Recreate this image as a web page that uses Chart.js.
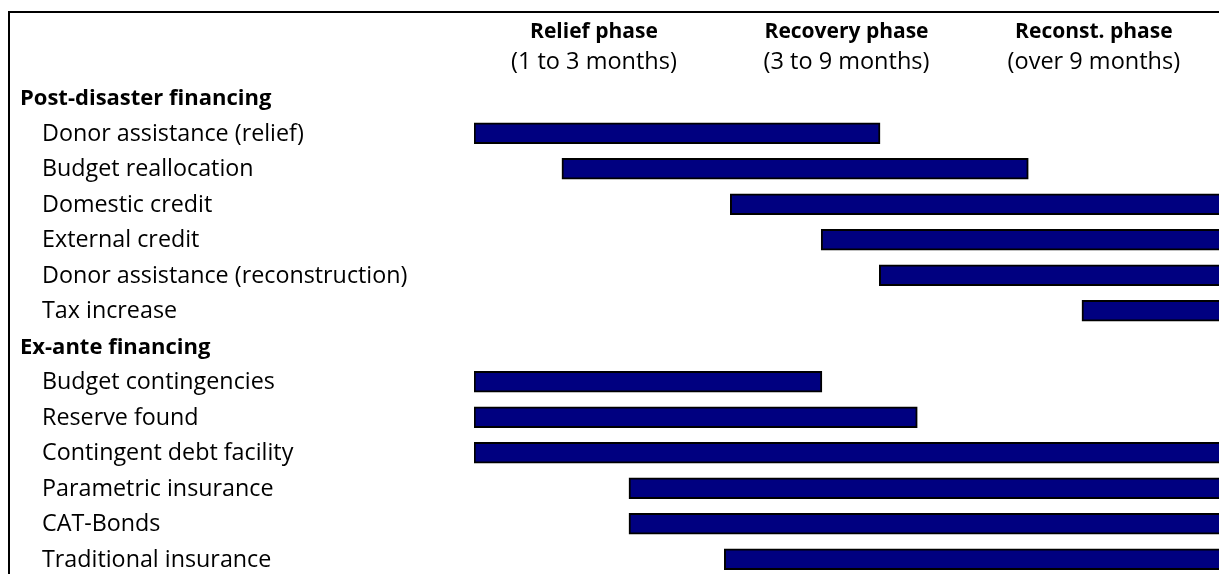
<!DOCTYPE html>
<html>
<head>
<meta charset="utf-8">
<script src="https://cdn.jsdelivr.net/npm/chart.js@4"></script>
<style>
  html, body { margin: 0; padding: 0; background: #fff; overflow: hidden; }
  #clip { width: 1219px; height: 574px; overflow: hidden; position: relative; }
  #wrap { width: 1260px; height: 600px; position: absolute; left: 0; top: 0; }
</style>
</head>
<body>
<div id="clip"><div id="wrap"><canvas id="myChart"></canvas></div></div>
<script>
const categories = [
  'Post-disaster financing',
  'Donor assistance (relief)',
  'Budget reallocation',
  'Domestic credit',
  'External credit',
  'Donor assistance (reconstruction)',
  'Tax increase',
  'Ex-ante financing',
  'Budget contingencies',
  'Reserve found',
  'Contingent debt facility',
  'Parametric insurance',
  'CAT-Bonds',
  'Traditional insurance'
];
const groupHeaders = ['Post-disaster financing', 'Ex-ante financing'];

// bar start / end on a time axis, 0-100 = visible width (null = header row, no bar)
// bars that run off the right edge end past 100
const barStart = [null, 0, 11.8, 34.4, 46.6, 54.4, 81.6, null, 0, 0, 0, 20.8, 20.8, 33.6];
const barEnd   = [null, 54.5, 74.4, 104, 104, 104, 104, null, 46.7, 59.5, 104, 104, 104, 104];

const phaseNames  = ['Relief phase', 'Recovery phase', 'Reconst. phase'];
const phaseSpans  = ['(1 to 3 months)', '(3 to 9 months)', '(over 9 months)'];
const phaseCenters = [16.1, 50, 83.2];

const FONT = '"Open Sans", "Noto Sans", sans-serif';

const labelsPlugin = {
  id: 'labelsPlugin',
  afterDraw(chart) {
    const c = chart.ctx;
    const x = chart.scales.x;
    const y = chart.scales.y;
    c.save();
    // frame
    c.strokeStyle = '#000';
    c.lineWidth = 2;
    c.beginPath();
    c.moveTo(9, 700);
    c.lineTo(9, 12);
    c.lineTo(1300, 12);
    c.stroke();

    c.fillStyle = '#000';
    c.textBaseline = 'middle';
    categories.forEach((lab, i) => {
      const py = y.getPixelForValue(i) + 1;
      const head = groupHeaders.includes(lab);
      c.textAlign = 'left';
      c.font = head ? 'bold 22px ' + FONT : '23.3px ' + FONT;
      c.fillText(lab, head ? 20 : 42, py);
    });

    c.textAlign = 'center';
    phaseNames.forEach((p, i) => {
      const px = x.getPixelForValue(phaseCenters[i]);
      c.font = 'bold 21px ' + FONT;
      c.fillText(p, px, 32);
      c.font = '23.5px ' + FONT;
      c.fillText(phaseSpans[i], px, 62);
    });
    c.restore();
  }
};

new Chart(document.getElementById('myChart'), {
  type: 'bar',
  data: {
    labels: categories,
    datasets: [{
      data: categories.map((c, i) => barStart[i] === null ? null : [barStart[i], barEnd[i]]),
      backgroundColor: '#000080',
      borderColor: '#000',
      borderWidth: 2,
      borderSkipped: false,
      barThickness: 21
    }]
  },
  options: {
    indexAxis: 'y',
    responsive: true,
    maintainAspectRatio: false,
    animation: false,
    layout: { padding: { left: 474, right: 0, top: 80, bottom: 23 } },
    plugins: { legend: { display: false }, tooltip: { enabled: false } },
    scales: {
      // canvas is wider than the window; 0-100 covers x=474..1219
      x: { display: false, min: 0, max: 105.5 },
      y: { display: false }
    }
  },
  plugins: [labelsPlugin]
});
</script>
</body>
</html>
